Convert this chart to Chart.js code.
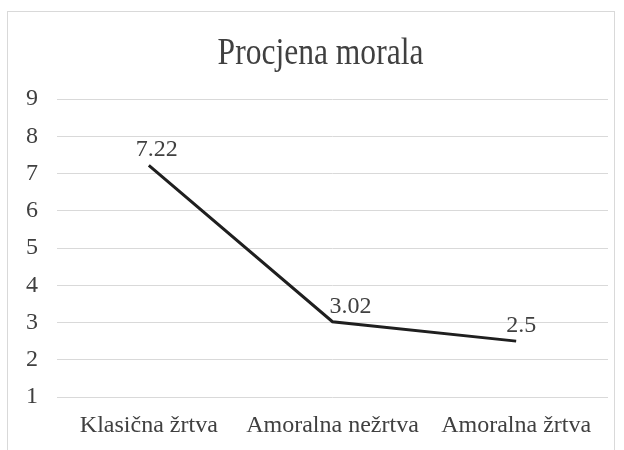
<!DOCTYPE html>
<html>
<head>
<meta charset="utf-8">
<script src="https://cdn.jsdelivr.net/npm/chart.js@4"></script>
<style>
    body { margin: 0; background: #ffffff; }
    #frame {
        position: absolute; left: 7px; top: 11px;
        width: 606px; height: 470px;
        border: 1px solid #d9d9d9;
    }
    #wrap { position: absolute; left: 0; top: 0; width: 624px; height: 450px; }
</style>
</head>
<body>
<div id="frame"></div>
<div id="wrap"><canvas id="moralChart" width="624" height="450"></canvas></div>
<script>
const chartTitle = "Procjena morala";
const categories = ["Klasična žrtva", "Amoralna nežrtva", "Amoralna žrtva"];
const moralScores = [7.22, 3.02, 2.5];
const yTicks = [1, 2, 3, 4, 5, 6, 7, 8, 9];

const textColor = "#404040";
const serif = "'Liberation Serif', 'Times New Roman', serif";

// title drawn by hand so it can be narrowed a bit (Excel's Times is tighter)
const narrowTitle = {
    id: "narrowTitle",
    afterDraw(chart, args, opts) {
        const ctx = chart.ctx;
        const a = chart.chartArea;
        ctx.save();
        ctx.font = opts.size + "px " + serif;
        ctx.fillStyle = textColor;
        ctx.textAlign = "center";
        ctx.textBaseline = "alphabetic";
        ctx.translate((a.left + a.right) / 2 - 12, opts.baseline);
        ctx.scale(opts.squeeze, 1);
        ctx.fillText(opts.text, 0, 0);
        ctx.restore();
    }
};

// draws the value above each point, like Excel's data labels
const valueLabels = {
    id: "valueLabels",
    afterDatasetsDraw(chart, args, opts) {
        const ctx = chart.ctx;
        const meta = chart.getDatasetMeta(0);
        ctx.save();
        ctx.font = "24px " + serif;
        ctx.fillStyle = textColor;
        ctx.textAlign = "center";
        ctx.textBaseline = "alphabetic";
        meta.data.forEach((pt, i) => {
            const dx = opts.dx[i] || 0;
            ctx.fillText(String(moralScores[i]), pt.x + dx, pt.y - 9);
        });
        ctx.restore();
    }
};

new Chart(document.getElementById("moralChart").getContext("2d"), {
    type: "line",
    data: {
        labels: categories,
        datasets: [{
            label: chartTitle,
            data: moralScores,
            borderColor: "#1f1f1f",
            borderWidth: 3,
            pointRadius: 0,
            tension: 0,
            fill: false
        }]
    },
    options: {
        responsive: false,
        animation: false,
        layout: { padding: { left: 0, right: 16, top: 99, bottom: 0 } },
        scales: {
            x: {
                offset: true,
                grid: { display: false },
                border: { display: false },
                ticks: {
                    color: textColor,
                    font: { family: serif, size: 24 },
                    padding: 6,
                    maxRotation: 0
                },
                afterFit: scale => { scale.height = 53; }
            },
            y: {
                min: 1,
                max: 9,
                afterBuildTicks: scale => { scale.ticks = yTicks.map(v => ({ value: v })); },
                grid: { color: "#d9d9d9", lineWidth: 1, drawTicks: false },
                border: { display: false },
                ticks: {
                    color: textColor,
                    font: { family: serif, size: 24 },
                    padding: 19
                },
                afterFit: scale => { scale.width = 57; }
            }
        },
        plugins: {
            legend: { display: false },
            tooltip: { enabled: false },
            title: { display: false },
            narrowTitle: { text: chartTitle, size: 38, squeeze: 0.83, baseline: 64 },
            valueLabels: { dx: [8, 18, 5] }
        }
    },
    plugins: [valueLabels, narrowTitle]
});
</script>
</body>
</html>
